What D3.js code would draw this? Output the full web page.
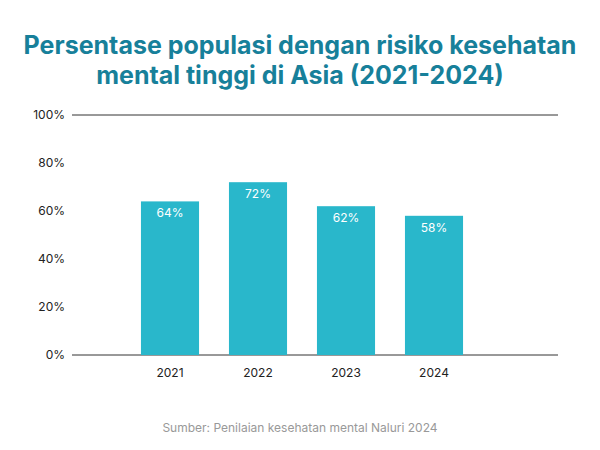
<!DOCTYPE html>
<html><head><meta charset="utf-8">
<script src="https://cdn.jsdelivr.net/npm/d3@7"></script>
<style>body{margin:0;background:#fff;font-family:Inter,"Noto Sans",sans-serif;}</style>
</head><body><div id="chart"></div>
<script>
const years = ['2021', '2022', '2023', '2024'];
const values = [64, 72, 62, 58];
const yTicks = [0, 20, 40, 60, 80, 100];

const W = 600, H = 450;
const svg = d3.select('#chart').append('svg').attr('width', W).attr('height', H);

// Title
const title = svg.append('text').attr('text-anchor', 'middle')
  .attr('fill', '#17809a').style('font-size', '25px').style('font-weight', 700);
title.append('tspan').attr('x', 300).attr('y', 54).text('Persentase populasi dengan risiko kesehatan');
title.append('tspan').attr('x', 300).attr('y', 84).text('mental tinggi di Asia (2021-2024)');

const y = d3.scaleLinear().domain([0, 100]).range([355, 115]);
const x = d3.scaleBand().domain(years).range([126, 478]).paddingInner(0.34).paddingOuter(0.17);

// Grid lines at 0 and 100
svg.selectAll('line.grid').data([0, 100]).enter().append('line')
  .attr('x1', 72).attr('x2', 558)
  .attr('y1', d => y(d)).attr('y2', d => y(d))
  .attr('stroke', '#333').attr('stroke-width', 1);

svg.selectAll('text.ytick').data(yTicks).enter().append('text')
  .attr('x', 65).attr('y', d => y(d) + 4).attr('text-anchor', 'end')
  .attr('fill', '#222').style('font-size', '12px').text(d => d + '%');

// Bars
svg.selectAll('rect.bar').data(values).enter().append('rect')
  .attr('x', (d, i) => x(years[i])).attr('width', x.bandwidth())
  .attr('y', d => y(d)).attr('height', d => y(0) - y(d))
  .attr('fill', '#29b7cb');

svg.selectAll('text.val').data(values).enter().append('text')
  .attr('x', (d, i) => x(years[i]) + x.bandwidth() / 2).attr('y', d => y(d) + 16)
  .attr('text-anchor', 'middle').attr('fill', '#fff').style('font-size', '12px')
  .text(d => d + '%');

svg.selectAll('text.year').data(years).enter().append('text')
  .attr('x', d => x(d) + x.bandwidth() / 2).attr('y', 377)
  .attr('text-anchor', 'middle').attr('fill', '#222').style('font-size', '12px')
  .text(d => d);

svg.append('text').attr('x', 300).attr('y', 432).attr('text-anchor', 'middle')
  .attr('fill', '#999').style('font-size', '12px')
  .text('Sumber: Penilaian kesehatan mental Naluri 2024');
</script></body></html>
